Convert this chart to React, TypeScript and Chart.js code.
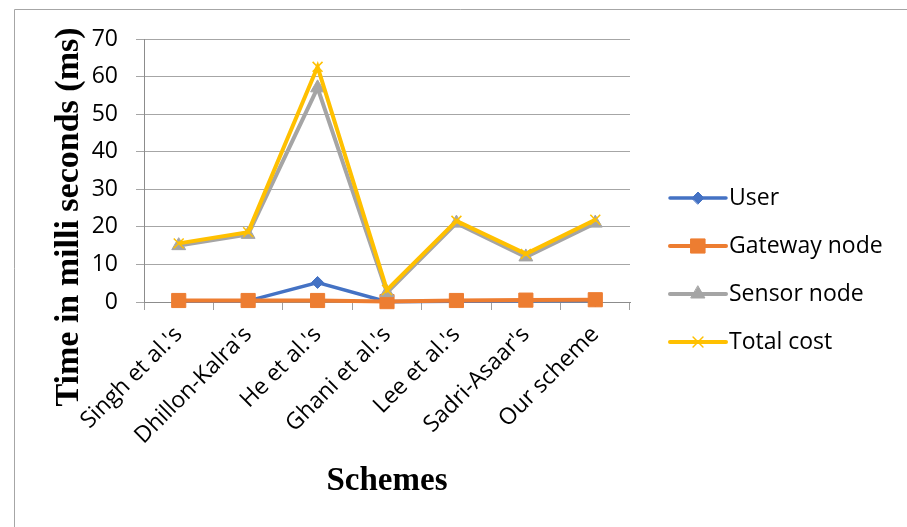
import React, { useEffect, useRef } from "react";
import { Chart, registerables } from "chart.js";
import { drawPoint } from "chart.js/helpers";

Chart.register(...registerables);

const categories = [
  "Singh et al.'s",
  "Dhillon-Kalra's",
  "He et al.'s",
  "Ghani et al.'s",
  "Lee et al.'s",
  "Sadri-Asaar's",
  "Our scheme",
];
const userCost = [0.3, 0.3, 5.2, 0.1, 0.2, 0.3, 0.4];
const gatewayCost = [0.4, 0.4, 0.4, 0.1, 0.4, 0.5, 0.6];
const sensorCost = [15, 18, 57, 2.5, 21, 12, 21];
const totalCost = [15.6, 18.6, 62.6, 3.2, 21.6, 12.8, 21.9];

const seriesNames = ["User", "Gateway node", "Sensor node", "Total cost"];
const yMin = 0;
const yMax = 70;
const yStep = 10;
const yTitle = "Time in milli seconds (ms)";
const xTitle = "Schemes";

const TICK_FONT = "'Open Sans', sans-serif";
const TITLE_FONT = "'Liberation Serif', 'Times New Roman', serif";

const decorPlugin = {
  id: "decor",
  beforeDraw(chart: any) {
    const ctx = chart.ctx;
    ctx.save();
    ctx.strokeStyle = "#a6a6a6";
    ctx.lineWidth = 1;
    ctx.beginPath();
    ctx.moveTo(14.5, 527);
    ctx.lineTo(14.5, 9.5);
    ctx.lineTo(907, 9.5);
    ctx.stroke();
    ctx.restore();
  },
  afterDraw(chart: any) {
    const ctx = chart.ctx;
    const area = chart.chartArea;
    ctx.save();
    // axis titles
    ctx.fillStyle = "#000";
    ctx.textAlign = "center";
    ctx.textBaseline = "middle";
    ctx.save();
    ctx.font = `bold 34px ${TITLE_FONT}`;
    ctx.translate(69, 217);
    ctx.rotate(-Math.PI / 2);
    ctx.fillText(yTitle, 0, 0);
    ctx.restore();
    ctx.font = `bold 33px ${TITLE_FONT}`;
    ctx.fillText(xTitle, (area.left + area.right) / 2, 481);

    // legend
    const lx0 = 670;
    const lx1 = 726;
    const tx = 729;
    const ly0 = 198;
    const dy = 48;
    ctx.font = `23px ${TICK_FONT}`;
    ctx.textAlign = "left";
    ctx.textBaseline = "middle";
    chart.data.datasets.forEach((ds: any, i: number) => {
      const y = ly0 + i * dy;
      ctx.save();
      ctx.strokeStyle = ds.borderColor;
      ctx.lineWidth = ds.borderWidth;
      ctx.lineCap = "round";
      ctx.beginPath();
      ctx.moveTo(lx0, y);
      ctx.lineTo(lx1, y);
      ctx.stroke();
      ctx.fillStyle = ds.pointBackgroundColor;
      ctx.strokeStyle = ds.pointBorderColor;
      ctx.lineWidth = ds.pointBorderWidth;
      drawPoint(ctx, { pointStyle: ds.pointStyle, radius: ds.pointRadius, borderWidth: ds.pointBorderWidth, rotation: 0 } as any, (lx0 + lx1) / 2, y);
      ctx.restore();
      ctx.fillStyle = "#000";
      ctx.fillText(seriesNames[i], tx, y);
    });
    ctx.restore();
  },
};

export default function App() {
  const canvasRef = useRef<HTMLCanvasElement | null>(null);

  useEffect(() => {
    if (!canvasRef.current) return;
    const series = [userCost, gatewayCost, sensorCost, totalCost];
    const colors = ["#4472C4", "#ED7D31", "#A5A5A5", "#FFC000"];
    const styles = ["rectRot", "rect", "triangle", "crossRot"];
    const radii = [6, 10, 8, 7];
    const widths = [3.5, 4, 4, 4];
    const orders = [3, 2, 1, 0];
    const chart = new Chart(canvasRef.current, {
      type: "line",
      data: {
        labels: categories,
        datasets: series.map((d, i) => ({
          label: seriesNames[i],
          data: d,
          borderColor: colors[i],
          backgroundColor: colors[i],
          borderWidth: widths[i],
          pointStyle: styles[i],
          pointRadius: radii[i],
          pointHoverRadius: radii[i],
          pointBackgroundColor: colors[i],
          pointBorderColor: colors[i],
          pointBorderWidth: styles[i] === "crossRot" ? 1.5 : 1,
          tension: 0,
          fill: false,
          order: orders[i],
          clip: false as any,
        })),
      },
      options: {
        responsive: false,
        animation: false,
        devicePixelRatio: 1,
        layout: { padding: { left: 0, top: 39, right: 277, bottom: 0 } },
        plugins: {
          legend: { display: false },
          tooltip: { enabled: false },
          title: { display: false },
        },
        scales: {
          x: {
            offset: true,
            grid: {
              offset: true,
              drawOnChartArea: false,
              drawTicks: true,
              tickLength: 8,
              color: "#a0a0a0",
            },
            border: { color: "#8c8c8c", width: 1 },
            ticks: {
              autoSkip: false,
              maxRotation: 45,
              minRotation: 45,
              padding: 11,
              color: "#000",
              font: { family: TICK_FONT, size: 23 },
            },
            afterFit: (scale: any) => {
              scale.height = 225;
            },
          },
          y: {
            min: yMin,
            max: yMax,
            ticks: {
              stepSize: yStep,
              padding: 18,
              color: "#000",
              font: { family: TICK_FONT, size: 23 },
            },
            grid: {
              color: "#a6a6a6",
              drawTicks: true,
              tickLength: 8,
            },
            border: { color: "#8c8c8c", width: 1 },
            afterFit: (scale: any) => {
              scale.width = 144;
            },
          },
        },
      },
      plugins: [decorPlugin],
    });
    return () => chart.destroy();
  }, []);

  return (
    <div style={{ position: "absolute", left: 0, top: 0, width: 907, height: 527, background: "#fff" }}>
      <canvas ref={canvasRef} width={907} height={527} style={{ display: "block" }} />
    </div>
  );
}
